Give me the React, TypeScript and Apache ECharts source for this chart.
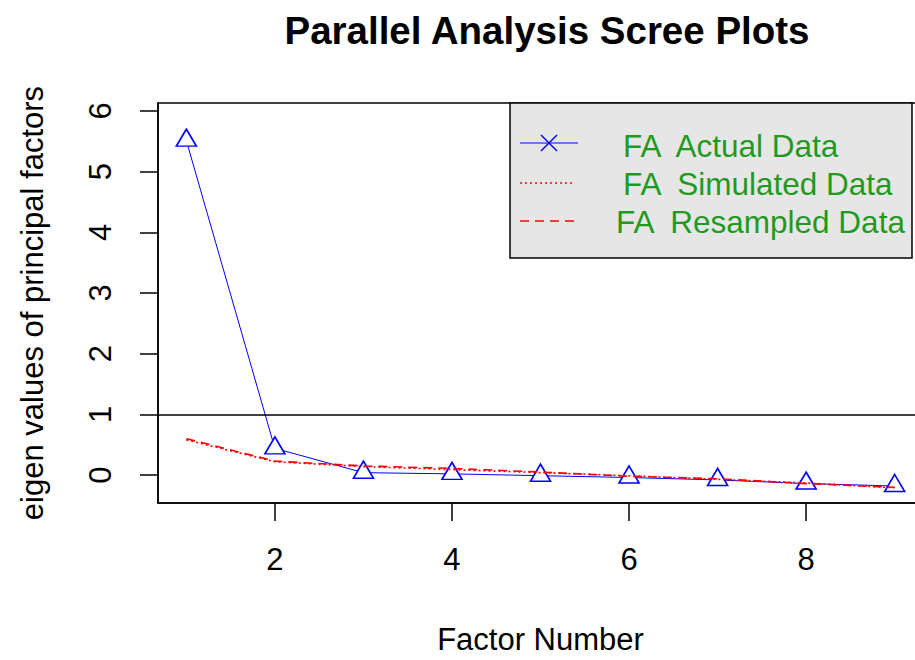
import React, { useEffect, useRef } from "react";
import * as echarts from "echarts";

const factors = [1, 2, 3, 4, 5, 6, 7, 8, 9];
const actualData = [5.51, 0.44, 0.04, 0.02, -0.01, -0.04, -0.08, -0.14, -0.18];
const simulatedData = [0.58, 0.22, 0.14, 0.09, 0.04, -0.01, -0.07, -0.13, -0.21];
const resampledData = [0.6, 0.23, 0.15, 0.11, 0.05, -0.02, -0.06, -0.14, -0.2];
const xTicks = [2, 4, 6, 8];
const yTicks = [0, 1, 2, 3, 4, 5, 6];
const legendLabels = ["FA  Actual Data", "FA  Simulated Data", "FA  Resampled Data"];
const refLine = 1;

const FONT = "'Liberation Sans', Arial, sans-serif";

export default function App() {
  const ref = useRef<HTMLDivElement>(null);
  useEffect(() => {
    if (!ref.current) return;
    const chart = echarts.init(ref.current, null, { renderer: "svg" });
    const pairs = (arr: number[]) => factors.map((f, i) => [f, arr[i]]);
    const green = "#1f9a1f";
    const option: any = {
      animation: false,
      backgroundColor: "#fff",
      textStyle: { fontFamily: FONT },
      title: {
        text: "Parallel Analysis Scree Plots",
        left: 542,
        textAlign: "center",
        top: 6,
        textStyle: { fontFamily: FONT, fontSize: 38.5, fontWeight: "bold", color: "#000" },
      },
      grid: {
        left: 158,
        right: 7,
        top: 103,
        bottom: 155,
        show: true,
        borderColor: "#000",
        borderWidth: 1.5,
        backgroundColor: "transparent",
      },
      xAxis: {
        type: "value",
        min: 0.68,
        max: 9.32,
        name: "Factor Number",
        nameLocation: "middle",
        nameGap: 121,
        nameTextStyle: { fontFamily: FONT, fontSize: 31, color: "#000", lineHeight: 31 },
        axisLine: { show: true, onZero: false, lineStyle: { color: "#000", width: 1.5 } },
        axisTick: { show: true, inside: false, customValues: xTicks, length: 18, lineStyle: { color: "#000", width: 1.5 } },
        axisLabel: { customValues: xTicks, margin: 41, fontFamily: FONT, fontSize: 31, color: "#000", lineHeight: 31 },
        splitLine: { show: false },
      },
      yAxis: {
        type: "value",
        min: -0.46,
        max: 6.13,
        name: "eigen values of principal factors",
        nameLocation: "middle",
        nameGap: 110,
        nameRotate: 90,
        nameTextStyle: { fontFamily: FONT, fontSize: 31, color: "#000", lineHeight: 31 },
        axisLine: { show: true, onZero: false, lineStyle: { color: "#000", width: 1.5 } },
        axisTick: { show: true, inside: false, customValues: yTicks, length: 18, lineStyle: { color: "#000", width: 1.5 } },
        axisLabel: { customValues: yTicks, rotate: 90, margin: 42, fontFamily: FONT, fontSize: 31, color: "#000", lineHeight: 31 },
        splitLine: { show: false },
      },
      series: [
        {
          name: legendLabels[0],
          type: "line",
          data: pairs(actualData),
          symbol: "triangle",
          symbolSize: [20, 17],
          symbolOffset: [0, -3],
          showAllSymbol: true,
          lineStyle: { color: "#0000ff", width: 1 },
          itemStyle: { color: "#ffffff", borderColor: "#0000ff", borderWidth: 1.6 },
          emphasis: { disabled: true },
          markLine: {
            silent: true,
            symbol: "none",
            label: { show: false },
            lineStyle: { color: "#000", width: 1.5, type: "solid" },
            data: [{ yAxis: refLine }],
          },
          z: 2,
        },
        {
          name: legendLabels[1],
          type: "line",
          data: pairs(simulatedData),
          showSymbol: false,
          symbol: "none",
          lineStyle: { color: "#ff0000", width: 1.6, type: [2, 3] },
          emphasis: { disabled: true },
          z: 3,
        },
        {
          name: legendLabels[2],
          type: "line",
          data: pairs(resampledData),
          showSymbol: false,
          symbol: "none",
          lineStyle: { color: "#ff0000", width: 1.6, type: [9, 6] },
          emphasis: { disabled: true },
          z: 4,
        },
      ],
      graphic: [
        {
          type: "rect",
          shape: { x: 510, y: 103, width: 402, height: 155 },
          style: { fill: "#e6e6e6", stroke: "#000", lineWidth: 1.5 },
          z: 10,
        },
        {
          type: "line",
          shape: { x1: 520, y1: 143, x2: 578, y2: 143 },
          style: { stroke: "#0000ff", lineWidth: 1.2 },
          z: 11,
        },
        {
          type: "line",
          shape: { x1: 541, y1: 135, x2: 557, y2: 151 },
          style: { stroke: "#0000ff", lineWidth: 1.4 },
          z: 11,
        },
        {
          type: "line",
          shape: { x1: 541, y1: 151, x2: 557, y2: 135 },
          style: { stroke: "#0000ff", lineWidth: 1.4 },
          z: 11,
        },
        {
          type: "line",
          shape: { x1: 520, y1: 183, x2: 574, y2: 183 },
          style: { stroke: "#ff0000", lineWidth: 1.6, lineDash: [2, 3] },
          z: 11,
        },
        {
          type: "line",
          shape: { x1: 520, y1: 221, x2: 578, y2: 221 },
          style: { stroke: "#ff0000", lineWidth: 1.6, lineDash: [9, 6] },
          z: 11,
        },
        {
          type: "text",
          x: 623,
          y: 146,
          style: { text: legendLabels[0], fill: green, font: `31.5px ${FONT}`, verticalAlign: "middle" },
          z: 11,
        },
        {
          type: "text",
          x: 623,
          y: 184,
          style: { text: legendLabels[1], fill: green, font: `31.5px ${FONT}`, verticalAlign: "middle" },
          z: 11,
        },
        {
          type: "text",
          x: 616,
          y: 222,
          style: { text: legendLabels[2], fill: green, font: `31.5px ${FONT}`, verticalAlign: "middle" },
          z: 11,
        },
      ],
    };
    chart.setOption(option);
    return () => chart.dispose();
  }, []);
  return (
    <div style={{ position: "absolute", left: 0, top: 0, width: 915, height: 660, overflow: "hidden" }}>
      <div ref={ref} style={{ width: 930, height: 660 }} />
    </div>
  );
}
